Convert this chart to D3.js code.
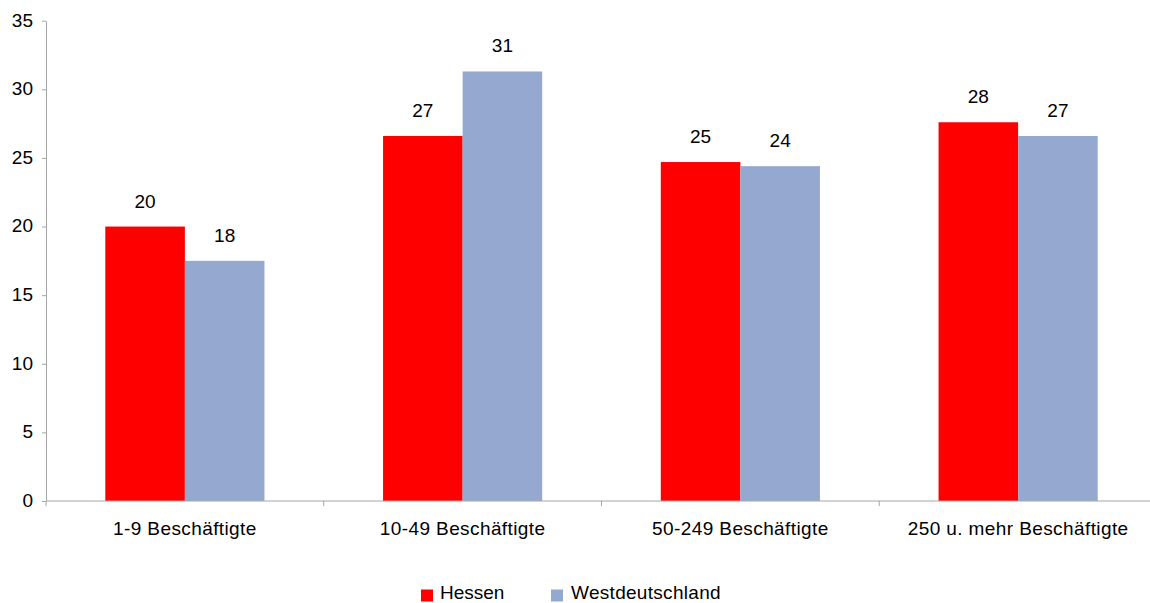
<!DOCTYPE html>
<html>
<head>
<meta charset="utf-8">
<script src="https://cdn.jsdelivr.net/npm/d3@7"></script>
<style>
  html, body { margin: 0; padding: 0; background: #fff; }
  svg text { font-family: "Liberation Sans", Arial, sans-serif; fill: #000; }
</style>
</head>
<body>
<svg id="chart" width="1150" height="603"></svg>
<script>
// Betriebsgrößenklassen
const categories = ["1-9 Beschäftigte", "10-49 Beschäftigte", "50-249 Beschäftigte", "250 u. mehr Beschäftigte"];
const seriesNames = ["Hessen", "Westdeutschland"];
const hessen = [20.0, 26.6, 24.7, 27.6];
const westdeutschland = [17.5, 31.3, 24.4, 26.6];
const yTicks = [0, 5, 10, 15, 20, 25, 30, 35];
const colors = ["#ff0000", "#95a9d0"];

const seriesValues = [hessen, westdeutschland];
const rows = categories.map((c, i) => ({
  category: c,
  values: seriesNames.map((s, j) => ({ series: s, value: seriesValues[j][i] }))
}));

const svg = d3.select("#chart");
const plotLeft = 46, plotRight = 1157, plotTop = 20.7, plotBottom = 501;
const fontSize = 19;

const x0 = d3.scaleBand().domain(categories).range([plotLeft, plotRight]).paddingInner(0).paddingOuter(0);
const bw = x0.bandwidth();
const x1 = d3.scaleBand().domain(seriesNames).range([bw * 0.2135, bw * 0.7865]).padding(0);
const y = d3.scaleLinear().domain([0, 35]).range([plotBottom, plotTop]);
const color = d3.scaleOrdinal().domain(seriesNames).range(colors);

// Bars
const groups = svg.append("g").selectAll("g").data(rows).join("g")
  .attr("transform", d => `translate(${x0(d.category)},0)`);

groups.selectAll("rect").data(d => d.values).join("rect")
  .attr("x", d => x1(d.series))
  .attr("y", d => y(d.value))
  .attr("width", x1.bandwidth())
  .attr("height", d => y(0) - y(d.value))
  .attr("fill", d => color(d.series));

// Value labels
groups.selectAll("text").data(d => d.values).join("text")
  .attr("x", d => x1(d.series) + x1.bandwidth() / 2)
  .attr("y", d => y(d.value) - 19)
  .attr("text-anchor", "middle")
  .attr("font-size", fontSize)
  .text(d => d3.format(".0f")(d.value));

// Y axis
const yAxis = svg.append("g")
  .attr("transform", `translate(${plotLeft},0)`)
  .call(d3.axisLeft(y).tickValues(yTicks).tickSize(4).tickSizeOuter(0).tickPadding(9));
yAxis.select(".domain").attr("stroke", "#a6a6a6");
yAxis.selectAll(".tick line").attr("stroke", "#a6a6a6");
yAxis.selectAll(".tick text").attr("font-size", fontSize).attr("fill", "#000")
  .attr("dy", "0.28em")
  .style("font-family", "'Liberation Sans', Arial, sans-serif");

// X axis baseline with category separators
const xg = svg.append("g");
xg.append("line")
  .attr("x1", plotLeft).attr("x2", 1150)
  .attr("y1", plotBottom).attr("y2", plotBottom)
  .attr("stroke", "#a6a6a6");
xg.selectAll("line.sep").data(categories).join("line")
  .attr("class", "sep")
  .attr("x1", d => x0(d)).attr("x2", d => x0(d))
  .attr("y1", plotBottom).attr("y2", plotBottom + 5)
  .attr("stroke", "#a6a6a6");
xg.selectAll("text").data(categories).join("text")
  .attr("x", d => x0(d) + bw / 2)
  .attr("y", 535)
  .attr("text-anchor", "middle")
  .attr("font-size", fontSize)
  .attr("letter-spacing", 0.4)
  .text(d => d);

// Legend
const legendItems = [{ name: seriesNames[0], x: 421 }, { name: seriesNames[1], x: 551 }];
const legend = svg.append("g").selectAll("g").data(legendItems).join("g")
  .attr("transform", d => `translate(${d.x},0)`);
legend.append("rect")
  .attr("x", 0).attr("y", 589.5)
  .attr("width", 12).attr("height", 12)
  .attr("fill", d => color(d.name));
legend.append("text")
  .attr("x", d => d.name === "Hessen" ? 19 : 20)
  .attr("y", 599)
  .attr("font-size", fontSize)
  .attr("letter-spacing", d => d.name === "Hessen" ? 0 : 0.3)
  .text(d => d.name);
</script>
</body>
</html>
